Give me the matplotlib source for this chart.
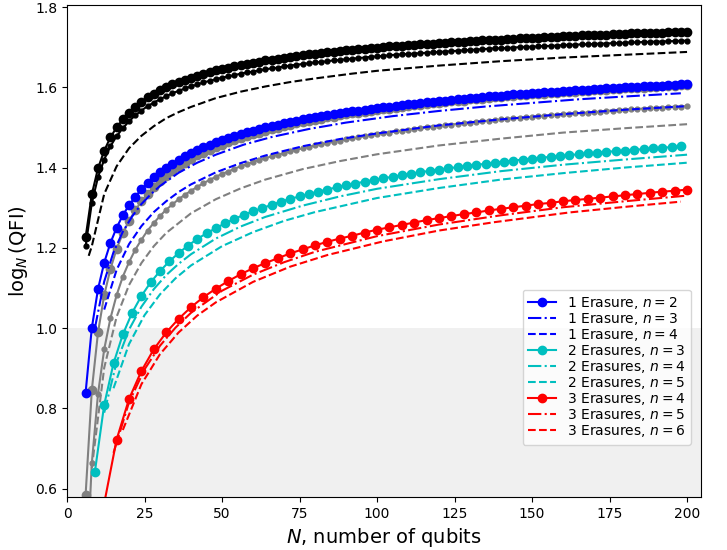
import matplotlib
matplotlib.use("Agg")
import matplotlib.pyplot as plt

# ---- data (log_N of QFI vs N) ----
N_step2 = list(range(6, 201, 2))
N_step3 = list(range(9, 199, 3))
N_step4 = list(range(12, 201, 4))

black_big = [
    1.226, 1.333, 1.398, 1.442, 1.475, 1.500, 1.520, 1.537, 1.552, 1.564,
    1.575, 1.584, 1.592, 1.600, 1.607, 1.613, 1.619, 1.624, 1.629, 1.634,
    1.638, 1.642, 1.646, 1.649, 1.652, 1.656, 1.659, 1.661, 1.664, 1.667,
    1.669, 1.671, 1.674, 1.676, 1.678, 1.680, 1.682, 1.684, 1.685, 1.687,
    1.689, 1.690, 1.692, 1.693, 1.695, 1.696, 1.698, 1.699, 1.700, 1.702,
    1.703, 1.704, 1.705, 1.706, 1.707, 1.708, 1.709, 1.710, 1.711, 1.712,
    1.713, 1.714, 1.715, 1.716, 1.717, 1.718, 1.719, 1.719, 1.720, 1.721,
    1.722, 1.723, 1.723, 1.724, 1.725, 1.725, 1.726, 1.727, 1.728, 1.728,
    1.729, 1.729, 1.730, 1.731, 1.731, 1.732, 1.732, 1.733, 1.734, 1.734,
    1.735, 1.735, 1.736, 1.736, 1.737, 1.737, 1.738, 1.738,
]
black_small = [
    1.204, 1.311, 1.376, 1.420, 1.453, 1.478, 1.498, 1.515, 1.530, 1.542,
    1.553, 1.562, 1.570, 1.578, 1.585, 1.591, 1.597, 1.602, 1.607, 1.612,
    1.616, 1.620, 1.624, 1.627, 1.630, 1.634, 1.637, 1.639, 1.642, 1.645,
    1.647, 1.649, 1.652, 1.654, 1.656, 1.658, 1.660, 1.662, 1.663, 1.665,
    1.667, 1.668, 1.670, 1.671, 1.673, 1.674, 1.676, 1.677, 1.678, 1.680,
    1.681, 1.682, 1.683, 1.684, 1.685, 1.686, 1.687, 1.688, 1.689, 1.690,
    1.691, 1.692, 1.693, 1.694, 1.695, 1.696, 1.697, 1.697, 1.698, 1.699,
    1.700, 1.701, 1.701, 1.702, 1.703, 1.703, 1.704, 1.705, 1.706, 1.706,
    1.707, 1.707, 1.708, 1.709, 1.709, 1.710, 1.710, 1.711, 1.712, 1.712,
    1.713, 1.713, 1.714, 1.714, 1.715, 1.715, 1.716, 1.716,
]
black_dash_N = [7, 8, 12, 16, 20, 24, 28, 32, 36, 40, 48, 56, 64, 72, 80, 92, 100, 120, 140, 160, 180, 200]
black_dash = [1.180, 1.204, 1.334, 1.403, 1.448, 1.479, 1.503, 1.523, 1.538, 1.551, 1.573,
              1.589, 1.602, 1.613, 1.622, 1.634, 1.641, 1.654, 1.665, 1.674, 1.681, 1.688]

blue_n2 = [
    0.839, 1.000, 1.097, 1.163, 1.212, 1.250, 1.281, 1.306, 1.327, 1.346,
    1.362, 1.376, 1.389, 1.400, 1.410, 1.420, 1.428, 1.436, 1.444, 1.451,
    1.457, 1.463, 1.468, 1.474, 1.479, 1.483, 1.488, 1.492, 1.496, 1.500,
    1.504, 1.507, 1.511, 1.514, 1.517, 1.520, 1.523, 1.525, 1.528, 1.531,
    1.533, 1.536, 1.538, 1.540, 1.542, 1.544, 1.546, 1.548, 1.550, 1.552,
    1.554, 1.556, 1.558, 1.559, 1.561, 1.563, 1.564, 1.566, 1.567, 1.569,
    1.570, 1.571, 1.573, 1.574, 1.575, 1.577, 1.578, 1.579, 1.580, 1.582,
    1.583, 1.584, 1.585, 1.586, 1.587, 1.588, 1.589, 1.590, 1.591, 1.592,
    1.593, 1.594, 1.595, 1.596, 1.597, 1.598, 1.599, 1.600, 1.600, 1.601,
    1.602, 1.603, 1.604, 1.604, 1.605, 1.606, 1.607, 1.607,
]
blue_n3_N = [9, 12, 15, 18, 21, 24, 27, 30, 36, 42, 48, 57, 66, 78, 90, 105, 120, 135, 150, 165, 180, 198]
blue_n3 = [1.000, 1.116, 1.189, 1.240, 1.278, 1.309, 1.333, 1.354, 1.387, 1.412, 1.432,
           1.457, 1.476, 1.496, 1.512, 1.528, 1.541, 1.552, 1.561, 1.570, 1.577, 1.585]
blue_n4_N = [12, 16, 20, 24, 28, 32, 36, 40, 48, 56, 64, 76, 88, 100, 120, 140, 160, 180, 200]
blue_n4 = [1.046, 1.145, 1.209, 1.254, 1.289, 1.316, 1.339, 1.358, 1.388, 1.411,
           1.430, 1.453, 1.471, 1.485, 1.505, 1.520, 1.533, 1.544, 1.553]

gray_big = [
    0.584, 0.845, 0.989, 1.082, 1.147, 1.197, 1.236, 1.267, 1.293, 1.316,
    1.335, 1.351, 1.367, 1.379, 1.391, 1.402, 1.412, 1.421, 1.430, 1.437,
    1.444, 1.451, 1.457, 1.463, 1.469, 1.473, 1.479, 1.483, 1.487, 1.492,
    1.496, 1.499, 1.504, 1.507, 1.510, 1.513, 1.516, 1.519, 1.522, 1.525,
    1.527, 1.530, 1.533, 1.535, 1.537, 1.539, 1.541, 1.543, 1.545, 1.547,
    1.549, 1.552, 1.554, 1.555, 1.557, 1.559, 1.560, 1.562, 1.563, 1.565,
    1.566, 1.567, 1.570, 1.571, 1.572, 1.574, 1.575, 1.576, 1.577, 1.579,
    1.580, 1.581, 1.582, 1.583, 1.584, 1.585, 1.586, 1.587, 1.588, 1.589,
    1.590, 1.591, 1.592, 1.593, 1.594, 1.595, 1.596, 1.597, 1.598, 1.599,
    1.599, 1.601, 1.601, 1.602, 1.603, 1.604, 1.605, 1.605,
]
gray_small = [
    0.339, 0.663, 0.836, 0.947, 1.024, 1.082, 1.128, 1.164, 1.195, 1.220,
    1.243, 1.262, 1.279, 1.295, 1.308, 1.321, 1.332, 1.342, 1.352, 1.361,
    1.369, 1.377, 1.384, 1.390, 1.397, 1.403, 1.408, 1.414, 1.419, 1.423,
    1.428, 1.432, 1.436, 1.440, 1.444, 1.448, 1.451, 1.455, 1.458, 1.461,
    1.464, 1.467, 1.470, 1.473, 1.475, 1.478, 1.480, 1.483, 1.485, 1.487,
    1.490, 1.492, 1.494, 1.496, 1.498, 1.500, 1.502, 1.503, 1.505, 1.507,
    1.509, 1.510, 1.512, 1.514, 1.515, 1.517, 1.518, 1.520, 1.521, 1.523,
    1.524, 1.525, 1.526, 1.528, 1.529, 1.530, 1.532, 1.533, 1.534, 1.535,
    1.536, 1.537, 1.538, 1.539, 1.541, 1.542, 1.543, 1.544, 1.545, 1.546,
    1.547, 1.548, 1.549, 1.549, 1.551, 1.551, 1.552, 1.553,
]
gray_dash_N = [8, 12, 16, 20, 24, 28, 32, 40, 48, 56, 64, 76, 88, 100, 120, 140, 160, 180, 200]
gray_dash = [0.651, 0.901, 1.028, 1.107, 1.162, 1.204, 1.237, 1.286, 1.321, 1.348,
             1.370, 1.396, 1.416, 1.433, 1.455, 1.472, 1.487, 1.498, 1.508]

cyan_n3 = [
    0.642, 0.809, 0.912, 0.984, 1.038, 1.080, 1.114, 1.142, 1.166, 1.187,
    1.205, 1.222, 1.236, 1.249, 1.261, 1.272, 1.282, 1.291, 1.299, 1.307,
    1.315, 1.322, 1.328, 1.334, 1.340, 1.345, 1.351, 1.356, 1.360, 1.365,
    1.369, 1.373, 1.377, 1.381, 1.385, 1.388, 1.392, 1.395, 1.398, 1.401,
    1.404, 1.407, 1.409, 1.412, 1.415, 1.417, 1.420, 1.422, 1.424, 1.427,
    1.429, 1.431, 1.433, 1.435, 1.437, 1.439, 1.441, 1.442, 1.444, 1.446,
    1.448, 1.449, 1.451, 1.453,
]
cyan_n4_N = [12, 16, 20, 24, 28, 32, 36, 40, 48, 56, 64, 76, 88, 100, 120, 140, 160, 180, 200]
cyan_n4 = [0.789, 0.915, 0.996, 1.053, 1.097, 1.132, 1.160, 1.184, 1.223, 1.253,
           1.277, 1.305, 1.328, 1.347, 1.371, 1.391, 1.407, 1.420, 1.432]
cyan_n5_N = [15, 20, 25, 30, 35, 40, 50, 60, 70, 80, 100, 120, 140, 160, 180, 200]
cyan_n5 = [0.850, 0.960, 1.032, 1.084, 1.124, 1.156, 1.204, 1.239, 1.267, 1.289,
           1.324, 1.349, 1.370, 1.386, 1.400, 1.412]

red_n4 = [
    0.563, 0.722, 0.823, 0.893, 0.947, 0.989, 1.023, 1.052, 1.077, 1.098,
    1.117, 1.134, 1.149, 1.162, 1.174, 1.186, 1.196, 1.206, 1.215, 1.223,
    1.230, 1.238, 1.245, 1.251, 1.257, 1.263, 1.269, 1.274, 1.279, 1.284,
    1.288, 1.293, 1.297, 1.301, 1.305, 1.309, 1.312, 1.316, 1.319, 1.322,
    1.325, 1.328, 1.331, 1.334, 1.337, 1.340, 1.342, 1.345,
]
red_n5_N = [15, 20, 25, 30, 35, 40, 50, 60, 70, 80, 100, 120, 140, 160, 180, 200]
red_n5 = [0.689, 0.815, 0.897, 0.956, 1.001, 1.038, 1.093, 1.133, 1.164, 1.190,
          1.229, 1.258, 1.281, 1.301, 1.316, 1.330]
red_n6_N = [18, 24, 30, 36, 42, 48, 60, 72, 84, 102, 120, 138, 162, 180, 198]
red_n6 = [0.746, 0.860, 0.935, 0.989, 1.031, 1.064, 1.115, 1.153, 1.182, 1.216,
          1.243, 1.264, 1.288, 1.302, 1.315]

BIG = 6
SMALL = 3.5


def main() -> None:
    fig = plt.figure(figsize=(7.27, 5.5), dpi=100)
    ax = fig.add_axes([67 / 727, 1 - 497 / 550, 634 / 727, 492 / 550])

    ax.axhspan(0.0, 1.0, color="#f0f0f0", lw=0, zorder=0)

    # gray reference curves (no legend entry)
    ax.plot(N_step2, gray_big, "-o", color="gray", ms=BIG)
    ax.plot(N_step2, gray_small, "-o", color="gray", ms=SMALL)
    ax.plot(gray_dash_N, gray_dash, "--", color="gray")

    ax.plot(N_step2, blue_n2, "-o", color="b", ms=BIG, label="1 Erasure, $n=2$")
    ax.plot(blue_n3_N, blue_n3, "-.", color="b", label="1 Erasure, $n=3$")
    ax.plot(blue_n4_N, blue_n4, "--", color="b", label="1 Erasure, $n=4$")

    ax.plot(N_step3, cyan_n3, "-o", color="c", ms=BIG, label="2 Erasures, $n=3$")
    ax.plot(cyan_n4_N, cyan_n4, "-.", color="c", label="2 Erasures, $n=4$")
    ax.plot(cyan_n5_N, cyan_n5, "--", color="c", label="2 Erasures, $n=5$")

    ax.plot(N_step4, red_n4, "-o", color="r", ms=BIG, label="3 Erasures, $n=4$")
    ax.plot(red_n5_N, red_n5, "-.", color="r", label="3 Erasures, $n=5$")
    ax.plot(red_n6_N, red_n6, "--", color="r", label="3 Erasures, $n=6$")

    # ideal curves (no legend entry)
    ax.plot(N_step2, black_big, "-o", color="k", ms=BIG)
    ax.plot(N_step2, black_small, "-o", color="k", ms=SMALL)
    ax.plot(black_dash_N, black_dash, "--", color="k")

    ax.set_xlim(0, 204.5)
    ax.set_ylim(0.579, 1.805)
    ax.set_xticks([0, 25, 50, 75, 100, 125, 150, 175, 200])
    ax.set_yticks([0.6, 0.8, 1.0, 1.2, 1.4, 1.6, 1.8])
    ax.tick_params(labelsize=10)
    ax.set_xlabel("$N$, number of qubits", fontsize=14)
    ax.set_ylabel(r"$\log_N(\mathrm{QFI})$", fontsize=14)

    ax.legend(loc="lower right", bbox_to_anchor=(0.995, 0.092), fontsize=10,
              labelspacing=0.0, handlelength=2.0, borderpad=0.4)

    fig.savefig("out.png", dpi=100)
    plt.close(fig)


if __name__ == "__main__":
    main()
